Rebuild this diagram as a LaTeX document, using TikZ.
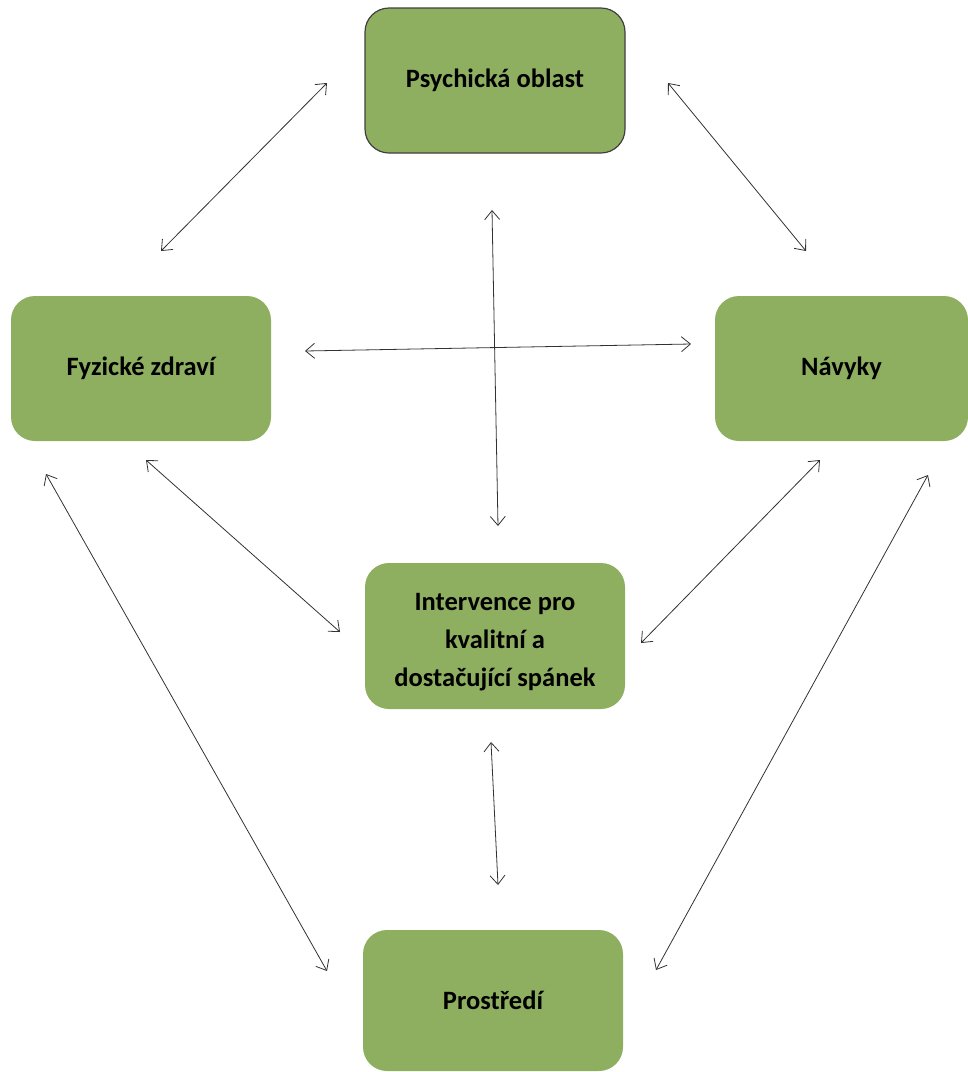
\documentclass[tikz,border=0pt]{standalone}
\usepackage{fontspec}
\setmainfont{Carlito}
\usetikzlibrary{arrows.meta}
\definecolor{boxgreen}{RGB}{143,175,96}
\definecolor{linegray}{RGB}{50,50,50}
\tikzset{
  box/.style={rectangle, rounded corners=24pt, fill=boxgreen, draw=none,
    minimum width=260pt, minimum height=145pt, inner sep=0pt,
    font=\fontsize{26.5}{38}\selectfont\bfseries, align=center, text=black},
  framed/.style={draw=black!75, line width=1.2pt},
  link/.style={draw=linegray, line width=0.8pt,
    {Straight Barb[length=9pt,width=15pt]}-{Straight Barb[length=9pt,width=15pt]}}
}
\begin{document}
\begin{tikzpicture}[x=1pt,y=-1pt]
\useasboundingbox (0,0) rectangle (968,1072);
\node[box,framed] (psy) at (495,80.5) {Psychická oblast};
\node[box] (fyz) at (141,368.5) {Fyzické zdraví};
\node[box,minimum width=253pt] (nav) at (841.5,368.5) {Návyky};
\node[box,minimum height=146pt] (int) at (495,636) {\rule{0pt}{30pt}Intervence pro\\kvalitní a\\dostačující spánek};
\node[box,minimum height=141pt] (pro) at (493,1000.5) {Prostředí};
% connector end points
\coordinate (a1) at (327,83);  \coordinate (b1) at (161,251);
\coordinate (a2) at (668,83);  \coordinate (b2) at (806,251);
\coordinate (a3) at (492,210); \coordinate (b3) at (498,526);
\coordinate (a4) at (305,351); \coordinate (b4) at (691,344);
\coordinate (a5) at (146,460); \coordinate (b5) at (340,632);
\coordinate (a6) at (820,460); \coordinate (b6) at (641,643);
\coordinate (a7) at (46,474);  \coordinate (b7) at (327,971);
\coordinate (a8) at (928,475); \coordinate (b8) at (656,970);
\coordinate (a9) at (491,742); \coordinate (b9) at (498,885);
\foreach \i in {1,...,9} {\draw[link] (a\i) -- (b\i);}
\end{tikzpicture}
\end{document}
